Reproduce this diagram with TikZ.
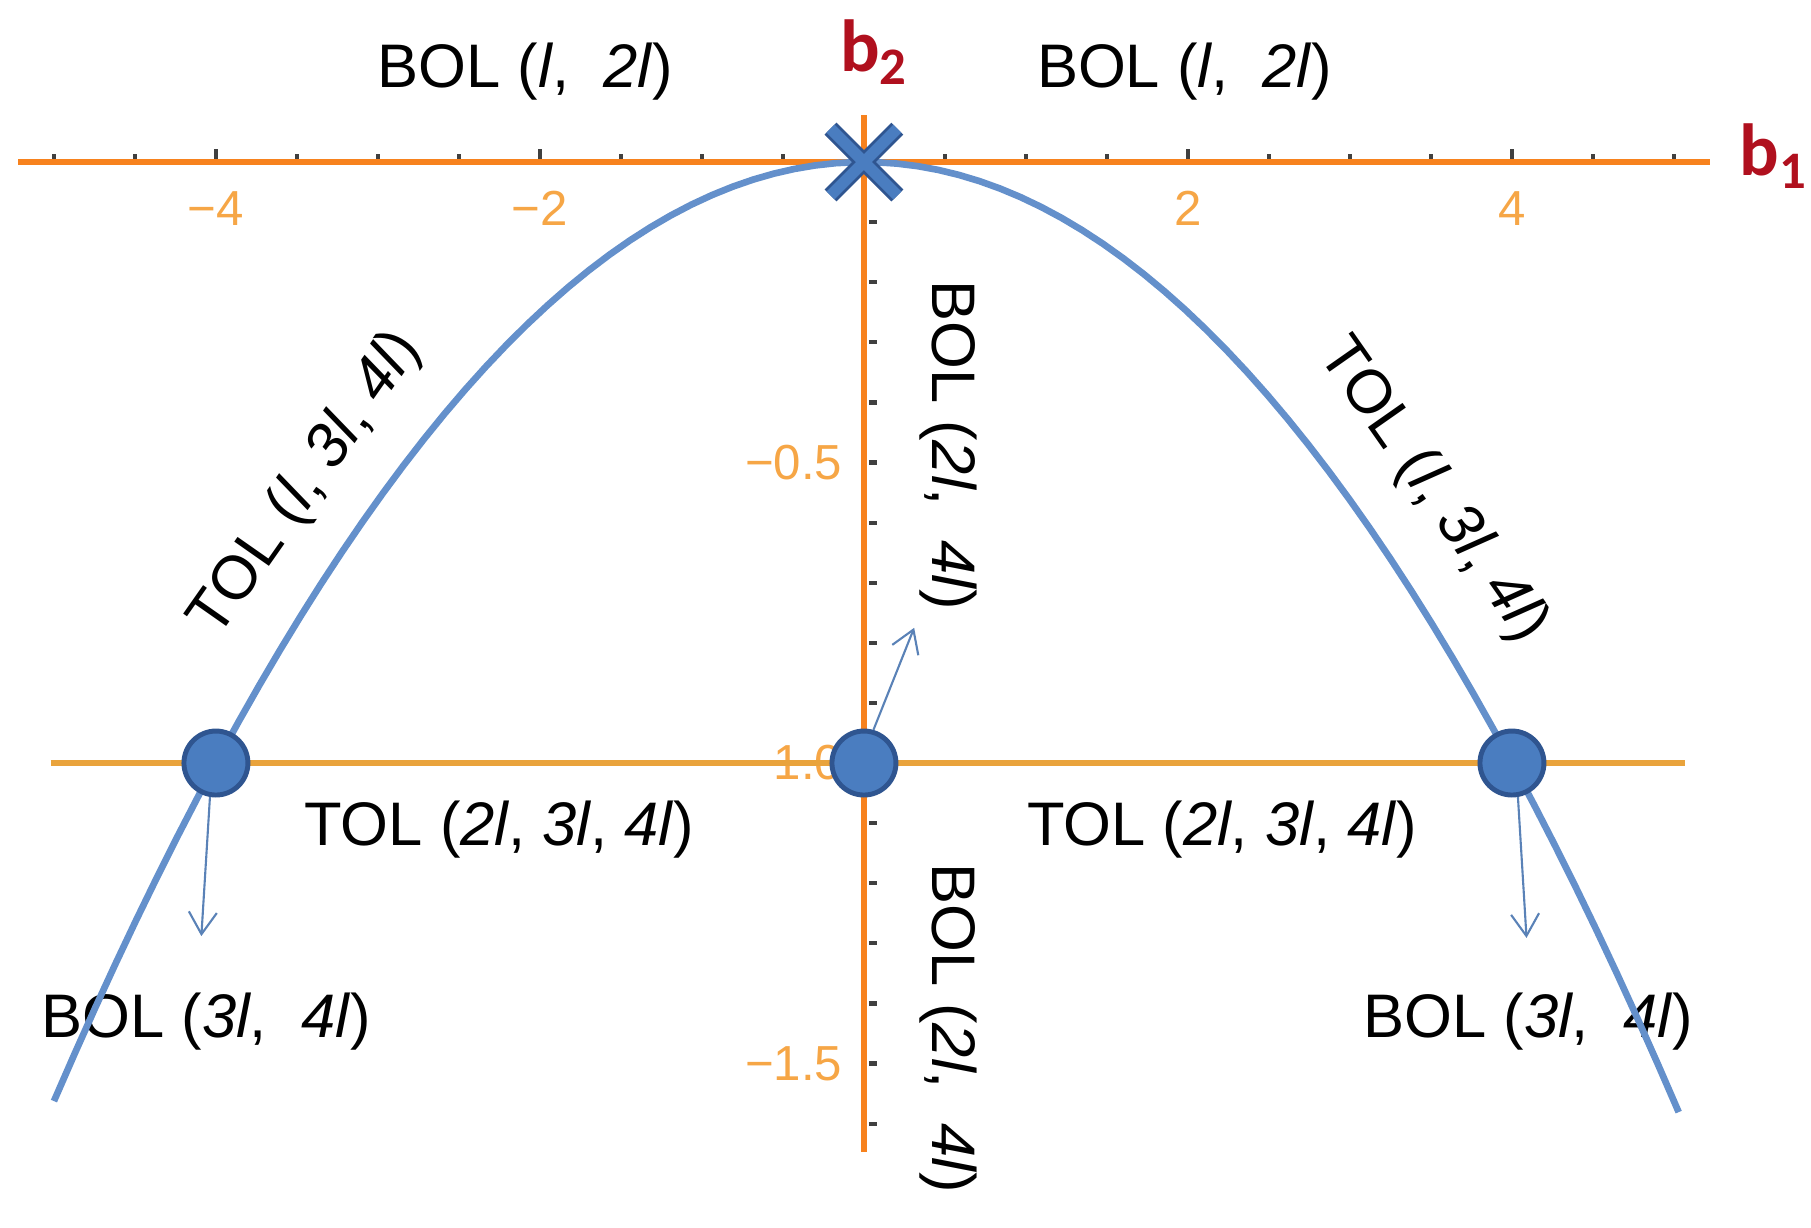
\documentclass[tikz,border=0pt]{standalone}
\usepackage{fontspec}
\setmainfont{Liberation Sans}
\newfontfamily\axisfont{Carlito}
\usetikzlibrary{arrows.meta,shapes.misc}
\definecolor{axisorange}{HTML}{F7821E}
\definecolor{lineorange}{HTML}{E9A33C}
\definecolor{tickorange}{HTML}{F6A646}
\definecolor{curveblue}{HTML}{6490CB}
\definecolor{dotblue}{HTML}{4A7DC0}
\definecolor{dotedge}{HTML}{2F5590}
\definecolor{axisred}{HTML}{B0101E}
\def\labelsize{\fontsize{17.5}{21}\selectfont}
\def\ticksize{\fontsize{14}{17}\selectfont}

\begin{document}
\begin{tikzpicture}[x=1.62cm, y=6.01cm, myarrow/.style={-{Straight Barb[length=2.2mm,width=2.8mm]}}]
    \tikzstyle{axis}=[draw=axisorange, line width=1.7pt]
    \tikzstyle{tickmark}=[draw=black!75, line width=1.2pt]
    \tikzstyle{ticklabel}=[text=tickorange, font=\ticksize, inner sep=0pt]
    \tikzstyle{annot}=[font=\labelsize, inner sep=0pt]
    \tikzstyle{axislabel}=[text=axisred, font=\axisfont\bfseries\fontsize{21}{24}\selectfont, inner sep=0pt]
    \tikzstyle{point}=[circle, draw=dotedge, fill=dotblue, line width=1.4pt, minimum size=0.64cm, inner sep=0pt]
    \tikzstyle{thinarrow}=[myarrow, draw=curveblue!90!black, line width=0.6pt]
    \useasboundingbox (-5.333,-1.772) rectangle (5.846,0.2696);

    % Tick labels
    \foreach \x/\t in {-4/−4,-2/−2,2/2,4/4}
        \node[ticklabel] (tx\x) at (\x,-0.077) {\t};
    \foreach \y/\t [count=\n] in {-0.5/−0.5,-1/−1.0,-1.5/−1.5}
        \node[ticklabel, anchor=east] (ty-\n) at (-0.13,\y) {\t};

    % Ticks
    \foreach \i in {-10,...,-1,1,2,...,10}
        \draw[tickmark] (\i/2,0.003) -- (\i/2,0.013);
    \foreach \x in {-4,-2,2,4}
        \draw[tickmark] (\x,0.003) -- (\x,0.022);
    \foreach \i in {1,...,16}
        \draw[tickmark] (0.03,-\i/10) -- (0.08,-\i/10);

    % Axes
    \draw[axis] (-5.22,0) -- (5.22,0);
    \draw[axis] (0,0.078) -- (0,-1.647);
    \node[axislabel, anchor=base west] (b1) at (5.40,-0.023) {b\raisebox{-0.35ex}{\fontsize{15}{17}\selectfont 1}};
    \node[axislabel, anchor=base west] (b2) at (-0.15,0.150) {b\raisebox{-0.35ex}{\fontsize{15}{17}\selectfont 2}};

    % Annotate the regions
    \node[annot] (bol-tl) at (-2.09,0.150) {BOL (\textit{l},\ \ \textit{2l})};
    \node[annot] (bol-tr) at (1.98,0.150) {BOL (\textit{l},\ \ \textit{2l})};
    \node[annot, rotate=55] (tol-l) at (-3.44,-0.537) {TOL (\textit{l}, \textit{3l}, \textit{4l})};
    \node[annot, rotate=-55] (tol-r) at (3.51,-0.547) {TOL (\textit{l}, \textit{3l}, \textit{4l})};
    \node[annot, rotate=-90] (bol-vu) at (0.52,-0.471) {BOL (\textit{2l},\ \ \textit{4l})};
    \node[annot, rotate=-90] (bol-vd) at (0.52,-1.441) {BOL (\textit{2l},\ \ \textit{4l})};
    \node[annot] (tol-bl) at (-2.25,-1.110) {TOL (\textit{2l}, \textit{3l}, \textit{4l})};
    \node[annot] (tol-br) at (2.21,-1.110) {TOL (\textit{2l}, \textit{3l}, \textit{4l})};
    \node[annot] (bol-bl) at (-4.06,-1.431) {BOL (\textit{3l},\ \ \textit{4l})};
    \node[annot] (bol-br) at (4.10,-1.431) {BOL (\textit{3l},\ \ \textit{4l})};

    % Line and curve
    \draw[draw=lineorange, line width=1.5pt] (-5.02,-1) -- (5.07,-1);
    \draw[draw=curveblue, line width=1.9pt, domain=-5:5.03, samples=80] plot (\x,{-\x*\x/16});

    % Draw the points
    \node[point] (P-1) at (-4,-1) {};
    \node[point] (P-2) at (0,-1) {};
    \node[point] (P-3) at (4,-1) {};
    \node[cross out, draw=dotedge, double=dotblue, double distance=3.2pt, line width=0.8pt,
          minimum size=0.64cm, inner sep=0pt] (X) at (0,0) {};

    % Connect the arrows
    \coordinate (A-1) at (-4.09,-1.288);
    \coordinate (A-2) at (0.31,-0.775);
    \coordinate (A-3) at (4.09,-1.291);
    \draw[thinarrow] (P-1.260) -- (A-1);
    \draw[thinarrow] (P-2.74) -- (A-2);
    \draw[thinarrow] (P-3.280) -- (A-3);
\end{tikzpicture}
\end{document}
